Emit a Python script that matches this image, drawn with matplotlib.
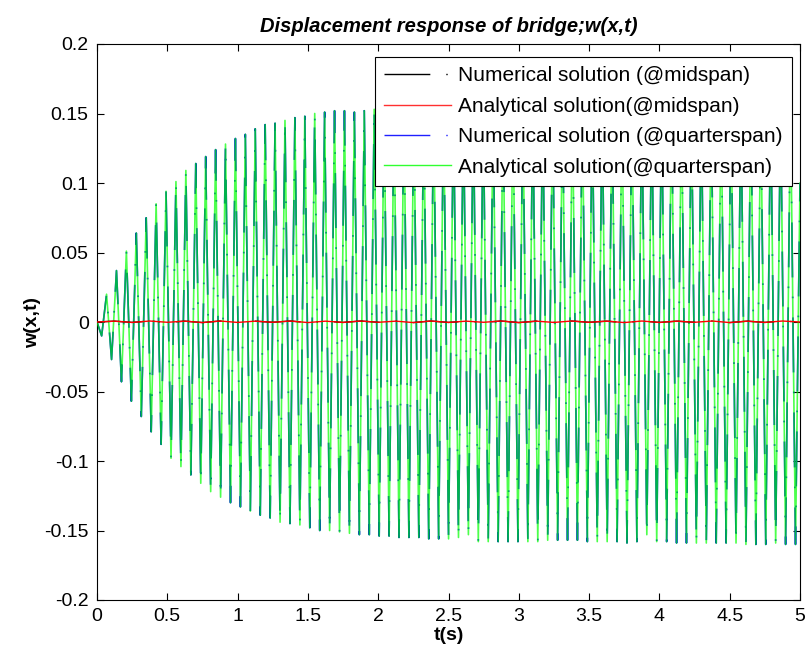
import numpy as np
import matplotlib
matplotlib.use("Agg")
import matplotlib.pyplot as plt
from matplotlib.lines import Line2D

plt.rcParams['font.family'] = ['Liberation Sans', 'DejaVu Sans']

# Peak values of quarterspan response, one per half cycle
upper_peaks = [0.020, 0.037, 0.051, 0.064, 0.075, 0.085, 0.094, 0.101, 0.109, 0.114,
               0.119, 0.124, 0.128, 0.132, 0.135, 0.139, 0.142, 0.143, 0.145, 0.147,
               0.148, 0.150, 0.151, 0.152, 0.152, 0.151, 0.152, 0.153, 0.153, 0.152,
               0.153, 0.154, 0.153, 0.154, 0.154, 0.155, 0.154, 0.155, 0.155, 0.154,
               0.155, 0.156, 0.155, 0.155, 0.156, 0.155, 0.156, 0.156, 0.155, 0.156,
               0.156, 0.157, 0.156, 0.156, 0.157, 0.156, 0.157, 0.157, 0.156, 0.157,
               0.157, 0.157, 0.156, 0.157, 0.158, 0.157, 0.157, 0.158, 0.157, 0.158]
lower_peaks = [-0.010, -0.027, -0.043, -0.057, -0.068, -0.079, -0.088, -0.098, -0.104, -0.110,
               -0.116, -0.122, -0.126, -0.130, -0.133, -0.136, -0.139, -0.141, -0.144, -0.145,
               -0.146, -0.148, -0.150, -0.150,
               -0.151, -0.152, -0.153, -0.153, -0.154, -0.154, -0.155, -0.155, -0.155, -0.156,
               -0.156, -0.156, -0.155, -0.153, -0.158, -0.158, -0.158, -0.158, -0.158, -0.158,
               -0.158, -0.157, -0.157, -0.157,
               -0.157, -0.158, -0.158, -0.158, -0.158, -0.159, -0.158, -0.153, -0.158, -0.158,
               -0.159, -0.159, -0.159, -0.159, -0.159, -0.159, -0.159, -0.160, -0.160, -0.160,
               -0.159, -0.160, -0.160]
first_lower = 0.033
first_upper = 0.068
period = 0.0705
end_value = 0.10

# midspan response: tiny ripple about zero
mid_values = [0.0, 0.0006, -0.0003, 0.0007, -0.0002, 0.0006, -0.0004, 0.0007, -0.0003, 0.0006,
              -0.0002, 0.0007, -0.0004, 0.0006, -0.0003, 0.0007, -0.0002, 0.0006, -0.0004, 0.0007,
              -0.0003, 0.0006, -0.0002, 0.0007, -0.0004, 0.0006, -0.0003, 0.0007, -0.0002, 0.0006,
              -0.0004, 0.0007, -0.0003, 0.0006, -0.0002, 0.0007, -0.0004, 0.0006, -0.0003, 0.0007,
              0.0]

xticks = [0, 0.5, 1, 1.5, 2, 2.5, 3, 3.5, 4, 4.5, 5]
xticklabels = ['0', '0.5', '1', '1.5', '2', '2.5', '3', '3.5', '4', '4.5', '5']
yticks = [-0.2, -0.15, -0.1, -0.05, 0, 0.05, 0.1, 0.15, 0.2]
yticklabels = ['-0.2', '-0.15', '-0.1', '-0.05', '0', '0.05', '0.1', '0.15', '0.2']

labels = ['Numerical solution (@midspan)', 'Analytical solution(@midspan)',
          'Numerical solution (@quarterspan)', 'Analytical solution(@quarterspan)']
colors = ['k', '#ff3030', '#2020ff', '#30ff30']

# build time series through the peaks
t_low = first_lower + period * np.arange(len(lower_peaks))
t_up = first_upper + period * np.arange(len(upper_peaks))
t_q = np.concatenate([[0.0], t_low, t_up, [5.0]])
w_q = np.concatenate([[0.0], lower_peaks, upper_peaks, [end_value]])
order = np.argsort(t_q)
t_q, w_q = t_q[order], w_q[order]

t_mid = np.linspace(0, 5, len(mid_values))
w_mid = np.array(mid_values)

fig = plt.figure(figsize=(8.1, 6.54), dpi=100)
ax = fig.add_axes([97/810, 1-600/654, 703/810, 556/654])

dashdot = (0, (33, 11.5, 1, 11.5))
ax.plot(t_q, w_q, color='#0000ff', lw=1.2, ls=dashdot, zorder=2)
ax.plot(t_q, w_q, color='#00ff00', lw=1.2, alpha=0.7, zorder=3)
ax.plot(t_mid, w_mid, color='k', lw=1.0, ls=dashdot, zorder=4)
ax.plot(t_mid, w_mid, color='#ff0000', lw=1.0, zorder=5)

ax.set_xlim(0, 5)
ax.set_ylim(-0.2, 0.2)
ax.set_xticks(xticks)
ax.set_xticklabels(xticklabels)
ax.set_yticks(yticks)
ax.set_yticklabels(yticklabels)
ax.tick_params(direction='in', length=5, width=0.8, labelsize=14, top=True, right=True, pad=6)
for s in ax.spines.values():
    s.set_linewidth(0.8)

ax.set_title('Displacement response of bridge;w(x,t)', fontsize=14.5, fontweight='bold',
             style='italic', pad=9)
ax.set_xlabel('t(s)', fontsize=14, fontweight='bold', labelpad=1)
ax.set_ylabel('w(x,t)', fontsize=14, fontweight='bold', labelpad=2)

handles = [Line2D([], [], color=colors[0], lw=1.0, ls=(0, (33, 11.5, 1, 11.5))),
           Line2D([], [], color=colors[1], lw=1.0),
           Line2D([], [], color=colors[2], lw=1.0, ls=(0, (33, 11.5, 1, 11.5))),
           Line2D([], [], color=colors[3], lw=1.0)]
leg = ax.legend(handles, labels, loc='upper right',
                bbox_to_anchor=((792-97)/703, 1-(57-44)/556), borderaxespad=0,
                fontsize=15, handlelength=3.2, handletextpad=0.35, labelspacing=0.55,
                fancybox=False, framealpha=1, edgecolor='k', borderpad=0.45)
leg.get_frame().set_linewidth(0.8)

fig.savefig('out.png', dpi=100)
